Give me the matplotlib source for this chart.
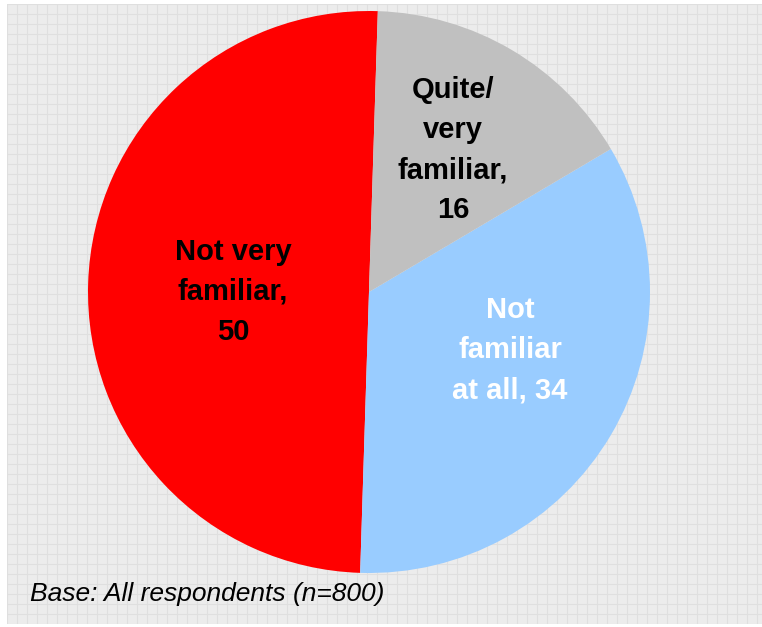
import matplotlib.pyplot as plt
import numpy as np

# pie data
labels = ['Not very\nfamiliar,\n50', 'Not\nfamiliar\nat all, 34', 'Quite/\nvery\nfamiliar,\n16']
values = [50, 34, 16]
colors = ['#FF0000', '#99CCFF', '#C0C0C0']
text_colors = ['black', 'white', 'black']
base_note = 'Base: All respondents (n=800)'

W, H = 762, 627
fig = plt.figure(figsize=(W / 100, H / 100), dpi=100)
fig.patch.set_facecolor('white')

# gridded grey background
bg = fig.add_axes([7 / W, 3 / H, 1 - 7 / W, 1 - 7 / H])
bg.set_facecolor('#ECECEC')
bg.set_xlim(0, 755)
bg.set_ylim(0, 620)
bg.set_xticks(np.arange(0, 756, 10))
bg.set_yticks(np.arange(0, 621, 10))
bg.grid(True, color='#DFDFDF', linewidth=0.8)
bg.tick_params(length=0, labelbottom=False, labelleft=False)
for s in bg.spines.values():
    s.set_visible(False)

# pie
cx, cy, r = 369, 292, 281
ax = fig.add_axes([(cx - r) / W, 1 - (cy + r) / H, 2 * r / W, 2 * r / H])
ax.set_facecolor('none')
wedges, _ = ax.pie(values, colors=colors, startangle=88.2, counterclock=True,
                   radius=1.0, wedgeprops=dict(linewidth=0))
ax.set_xlim(-1, 1)
ax.set_ylim(-1, 1)
ax.set_aspect('auto')
ax.axis('off')

# label positions in pixels
label_pos = [(233, 292), (510, 350), (453, 150)]
for lab, (px, py), tc in zip(labels, label_pos, text_colors):
    ax.text((px - cx) / r, (cy - py) / r, lab, ha='center', va='center',
            fontsize=21, fontweight='bold', color=tc, family='Liberation Sans',
            linespacing=1.55)

fig.text(30 / W, 1 - 594 / H, base_note, fontsize=19, style='italic',
         family='Liberation Sans', ha='left', va='center')

fig.savefig('out.png', dpi=100)
